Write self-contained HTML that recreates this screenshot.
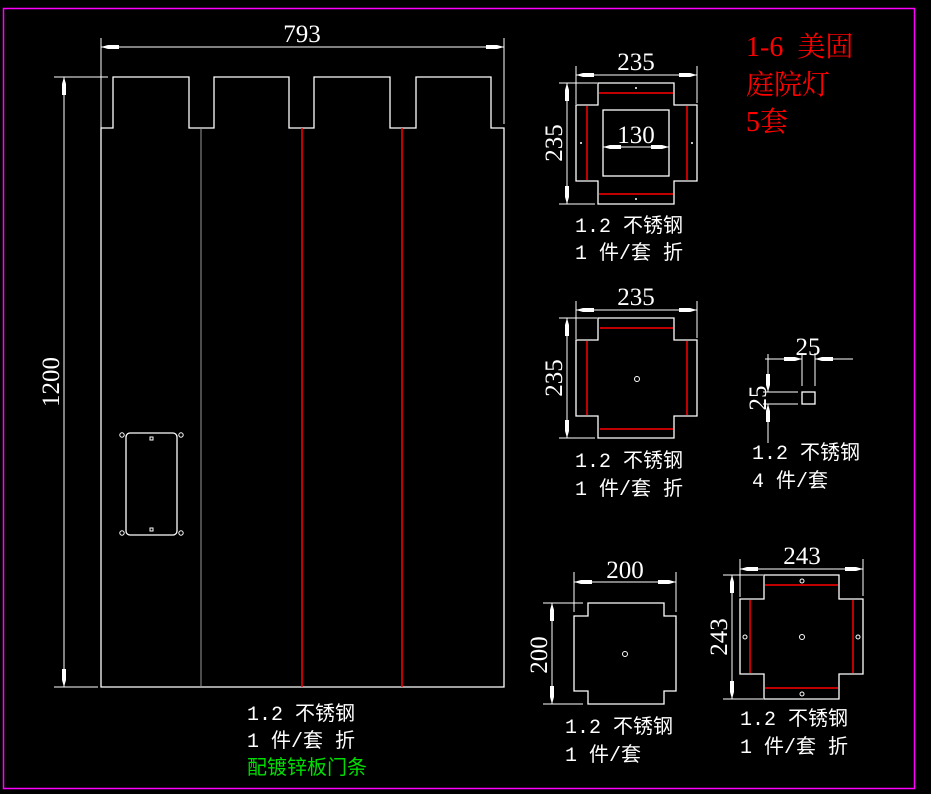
<!DOCTYPE html>
<html><head><meta charset="utf-8"><style>
html,body{margin:0;padding:0;background:#000;}
svg{display:block;}
.w{stroke:#fff;stroke-width:1.3;fill:none;}
.r{stroke:#f00;stroke-width:1.5;fill:none;}
.d{stroke:#fff;stroke-width:1;fill:none;}
.num{font-family:"Liberation Serif","Noto Serif CJK SC",serif;font-size:25px;fill:#fff;}
.lab{font-family:"Liberation Mono","Noto Sans CJK SC",monospace;font-size:20px;fill:#fff;}
.ttl{font-family:"Liberation Serif","Noto Serif CJK SC",serif;font-size:28px;fill:#f00;}
</style></head><body>
<svg width="931" height="794" viewBox="0 0 931 794" xmlns="http://www.w3.org/2000/svg">
<defs>
<marker id="a" viewBox="0 0 18 9" refX="18" refY="4.5" markerWidth="18" markerHeight="9" markerUnits="userSpaceOnUse" orient="auto-start-reverse">
<path d="M0,2.5 L11,2.5 L18,4.5 L11,6.5 L0,6.5 Z" fill="#fff"/>
</marker>
</defs>
<rect x="0" y="0" width="931" height="794" fill="#000"/>
<rect x="3.5" y="8.5" width="911" height="780" fill="none" stroke="#f0f" stroke-width="1.5"/>

<!-- main panel -->
<path class="w" d="M101,128 L113,128 L113,77 L189,77 L189,128 L214,128 L214,77 L289,77 L289,128 L314,128 L314,77 L390,77 L390,128 L416,128 L416,77 L491,77 L491,128 L504,128 L504,687 L101,687 Z"/>
<line x1="201" y1="128" x2="201" y2="687" stroke="#999" stroke-width="1"/>
<line class="r" x1="302" y1="128" x2="302" y2="687"/>
<line class="r" x1="402" y1="128" x2="402" y2="687"/>
<!-- dim 793 -->
<line class="d" x1="101" y1="38" x2="101" y2="128"/>
<line class="d" x1="504" y1="38" x2="504" y2="124"/>
<line class="d" x1="101" y1="47" x2="504" y2="47" marker-start="url(#a)" marker-end="url(#a)"/>
<text class="num" x="302" y="42" text-anchor="middle">793</text>
<!-- dim 1200 -->
<line class="d" x1="54" y1="77" x2="108" y2="77"/>
<line class="d" x1="54" y1="687" x2="98" y2="687"/>
<line class="d" x1="64" y1="77" x2="64" y2="687" marker-start="url(#a)" marker-end="url(#a)"/>
<text class="num" transform="translate(59,382) rotate(-90)" text-anchor="middle">1200</text>
<!-- window -->
<rect class="w" x="126" y="433" width="51" height="102" rx="4"/>
<circle cx="122" cy="435" r="2.2" class="d"/><circle cx="181" cy="435" r="2.2" class="d"/>
<circle cx="122" cy="533" r="2.2" class="d"/><circle cx="181" cy="533" r="2.2" class="d"/>
<rect x="150" y="437" width="3" height="3" class="d"/><rect x="150" y="528" width="3" height="3" class="d"/>
<text class="lab" x="247" y="720">1.2 不锈钢</text>
<text class="lab" x="247" y="747">1 件/套 折</text>
<text class="lab" x="247" y="774" style="fill:#0d0">配镀锌板门条</text>

<!-- title -->
<text class="ttl" x="746" y="56">1-6&#160;&#160;美固</text>
<text class="ttl" x="746" y="94">庭院灯</text>
<text class="ttl" x="746" y="131">5套</text>

<!-- fig 2 -->
<path class="w" d="M598,83 L674,83 L674,105 L697,105 L697,181 L674,181 L674,204 L598,204 L598,181 L576,181 L576,105 L598,105 Z"/>
<rect class="w" x="603" y="110" width="66" height="66"/>
<line class="r" x1="599" y1="93" x2="673" y2="93"/>
<line class="r" x1="599" y1="194" x2="673" y2="194"/>
<line class="r" x1="587" y1="106" x2="587" y2="180"/>
<line class="r" x1="687" y1="106" x2="687" y2="180"/>
<circle cx="636" cy="88" r="1" fill="#fff"/><circle cx="636" cy="199" r="1" fill="#fff"/>
<circle cx="581" cy="143" r="1" fill="#fff"/><circle cx="692" cy="143" r="1" fill="#fff"/>
<line class="d" x1="576" y1="66" x2="576" y2="104"/><line class="d" x1="697" y1="66" x2="697" y2="103"/>
<line class="d" x1="576" y1="75" x2="697" y2="75" marker-start="url(#a)" marker-end="url(#a)"/>
<text class="num" x="636" y="70" text-anchor="middle">235</text>
<line class="d" x1="559" y1="83" x2="597" y2="83"/><line class="d" x1="559" y1="204" x2="595" y2="204"/>
<line class="d" x1="567" y1="83" x2="567" y2="204" marker-start="url(#a)" marker-end="url(#a)"/>
<text class="num" transform="translate(562,143) rotate(-90)" text-anchor="middle">235</text>
<line class="d" x1="603" y1="147" x2="669" y2="147" marker-start="url(#a)" marker-end="url(#a)"/>
<text class="num" x="636" y="143" text-anchor="middle">130</text>
<text class="lab" x="575" y="232">1.2 不锈钢</text>
<text class="lab" x="575" y="259">1 件/套 折</text>

<!-- fig 3 -->
<path class="w" d="M598,318 L674,318 L674,340 L697,340 L697,416 L674,416 L674,438 L598,438 L598,416 L576,416 L576,340 L598,340 Z"/>
<line class="r" x1="600" y1="328" x2="673" y2="328"/>
<line class="r" x1="600" y1="429" x2="673" y2="429"/>
<line class="r" x1="587" y1="341" x2="587" y2="415"/>
<line class="r" x1="687" y1="341" x2="687" y2="415"/>
<circle cx="637" cy="379" r="2.5" class="d"/>
<line class="d" x1="576" y1="301" x2="576" y2="339"/><line class="d" x1="697" y1="301" x2="697" y2="338"/>
<line class="d" x1="576" y1="310" x2="697" y2="310" marker-start="url(#a)" marker-end="url(#a)"/>
<text class="num" x="636" y="305" text-anchor="middle">235</text>
<line class="d" x1="559" y1="318" x2="597" y2="318"/><line class="d" x1="559" y1="438" x2="595" y2="438"/>
<line class="d" x1="567" y1="318" x2="567" y2="438" marker-start="url(#a)" marker-end="url(#a)"/>
<text class="num" transform="translate(562,378) rotate(-90)" text-anchor="middle">235</text>
<text class="lab" x="575" y="467">1.2 不锈钢</text>
<text class="lab" x="575" y="495">1 件/套 折</text>

<!-- small square -->
<rect class="w" x="802" y="392" width="13" height="12"/>
<line class="d" x1="802" y1="353" x2="802" y2="386"/><line class="d" x1="815" y1="353" x2="815" y2="386"/>
<line class="d" x1="765" y1="359" x2="802" y2="359" marker-end="url(#a)"/>
<line class="d" x1="853" y1="359" x2="815" y2="359" marker-end="url(#a)"/>
<text class="num" x="808" y="355" text-anchor="middle">25</text>
<line class="d" x1="763" y1="392" x2="798" y2="392"/><line class="d" x1="763" y1="404" x2="798" y2="404"/>
<line class="d" x1="768" y1="354" x2="768" y2="392" marker-end="url(#a)"/>
<line class="d" x1="768" y1="443" x2="768" y2="404" marker-end="url(#a)"/>
<text class="num" transform="translate(766,398) rotate(-90)" text-anchor="middle">25</text>
<text class="lab" x="752" y="459">1.2 不锈钢</text>
<text class="lab" x="752" y="487">4 件/套</text>

<!-- fig 4 -->
<path class="w" d="M588,603 L664,603 L664,616 L676,616 L676,691 L664,691 L664,704 L588,704 L588,691 L574,691 L574,616 L588,616 Z"/>
<circle cx="625" cy="654" r="2.5" class="d"/>
<line class="d" x1="574" y1="572" x2="574" y2="612"/><line class="d" x1="676" y1="572" x2="676" y2="612"/>
<line class="d" x1="574" y1="582" x2="676" y2="582" marker-start="url(#a)" marker-end="url(#a)"/>
<text class="num" x="625" y="578" text-anchor="middle">200</text>
<line class="d" x1="543" y1="603" x2="583" y2="603"/><line class="d" x1="543" y1="704" x2="583" y2="704"/>
<line class="d" x1="552" y1="603" x2="552" y2="704" marker-start="url(#a)" marker-end="url(#a)"/>
<text class="num" transform="translate(547,655) rotate(-90)" text-anchor="middle">200</text>
<text class="lab" x="565" y="733">1.2 不锈钢</text>
<text class="lab" x="565" y="761">1 件/套</text>

<!-- fig 5 -->
<path class="w" d="M764,575 L839,575 L839,599 L863,599 L863,674 L839,674 L839,699 L764,699 L764,674 L740,674 L740,599 L764,599 Z"/>
<line class="r" x1="765" y1="585" x2="838" y2="585"/>
<line class="r" x1="765" y1="688" x2="838" y2="688"/>
<line class="r" x1="750" y1="600" x2="750" y2="673"/>
<line class="r" x1="853" y1="600" x2="853" y2="673"/>
<circle cx="802" cy="581" r="2" class="d"/><circle cx="802" cy="694" r="2" class="d"/>
<circle cx="745" cy="637" r="2" class="d"/><circle cx="858" cy="637" r="2" class="d"/>
<circle cx="802" cy="637" r="2.5" class="d"/>
<line class="d" x1="740" y1="559" x2="740" y2="597"/><line class="d" x1="863" y1="559" x2="863" y2="596"/>
<line class="d" x1="740" y1="569" x2="863" y2="569" marker-start="url(#a)" marker-end="url(#a)"/>
<text class="num" x="802" y="564" text-anchor="middle">243</text>
<line class="d" x1="723" y1="575" x2="763" y2="575"/><line class="d" x1="723" y1="699" x2="763" y2="699"/>
<line class="d" x1="732" y1="575" x2="732" y2="699" marker-start="url(#a)" marker-end="url(#a)"/>
<text class="num" transform="translate(727,637) rotate(-90)" text-anchor="middle">243</text>
<text class="lab" x="740" y="725">1.2 不锈钢</text>
<text class="lab" x="740" y="753">1 件/套 折</text>
</svg>
</body></html>
